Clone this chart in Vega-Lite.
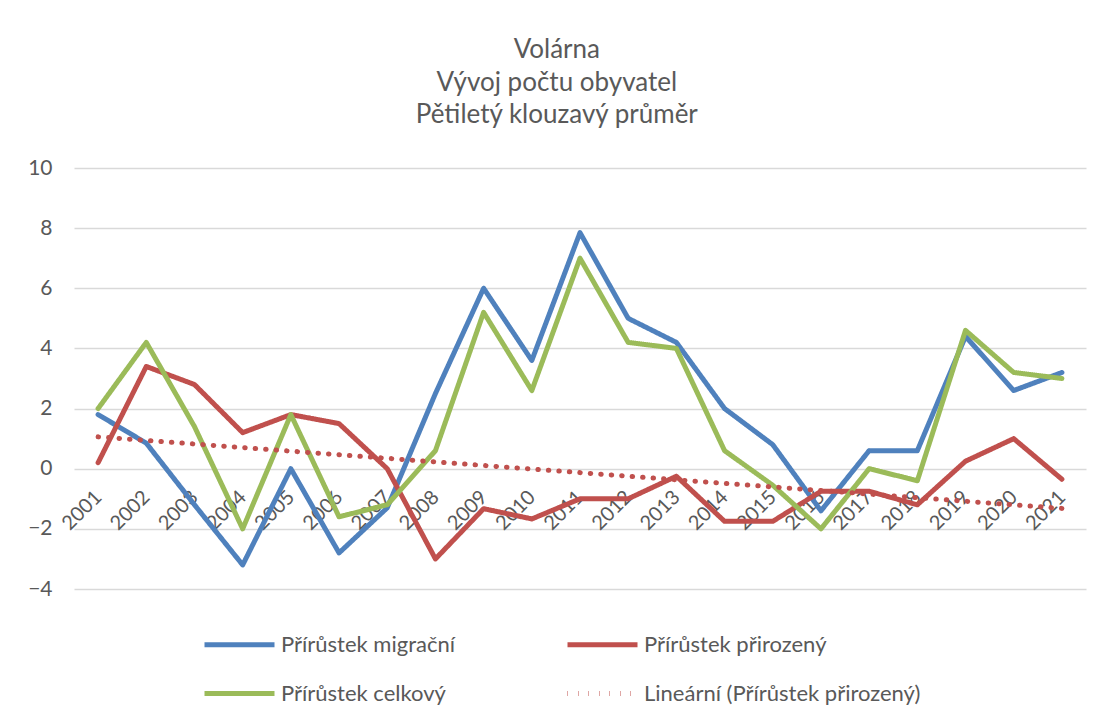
{
  "$schema": "https://vega.github.io/schema/vega-lite/v6.json",
  "width": 1012,
  "height": 421,
  "autosize": {"type": "none"},
  "padding": {"left": 74, "top": 168, "right": 14, "bottom": 126},
  "background": "white",
  "title": {
    "text": ["Volárna", "Vývoj počtu obyvatel", "Pětiletý klouzavý průměr"],
    "fontSize": 26,
    "font": "Lato",
    "fontWeight": "normal",
    "color": "#595959",
    "lineHeight": 32.5,
    "anchor": "middle",
    "frame": "bounds",
    "offset": 29
  },
  "config": {"view": {"stroke": null}},
  "data": {
    "values": [
      {"rok": 2001, "hodnota": 1.8, "rada": "Přírůstek migrační"},
      {"rok": 2002, "hodnota": 0.85, "rada": "Přírůstek migrační"},
      {"rok": 2003, "hodnota": -1.2, "rada": "Přírůstek migrační"},
      {"rok": 2004, "hodnota": -3.2, "rada": "Přírůstek migrační"},
      {"rok": 2005, "hodnota": 0.0, "rada": "Přírůstek migrační"},
      {"rok": 2006, "hodnota": -2.8, "rada": "Přírůstek migrační"},
      {"rok": 2007, "hodnota": -1.3, "rada": "Přírůstek migrační"},
      {"rok": 2008, "hodnota": 2.5, "rada": "Přírůstek migrační"},
      {"rok": 2009, "hodnota": 6.0, "rada": "Přírůstek migrační"},
      {"rok": 2010, "hodnota": 3.6, "rada": "Přírůstek migrační"},
      {"rok": 2011, "hodnota": 7.85, "rada": "Přírůstek migrační"},
      {"rok": 2012, "hodnota": 5.0, "rada": "Přírůstek migrační"},
      {"rok": 2013, "hodnota": 4.2, "rada": "Přírůstek migrační"},
      {"rok": 2014, "hodnota": 2.0, "rada": "Přírůstek migrační"},
      {"rok": 2015, "hodnota": 0.8, "rada": "Přírůstek migrační"},
      {"rok": 2016, "hodnota": -1.4, "rada": "Přírůstek migrační"},
      {"rok": 2017, "hodnota": 0.6, "rada": "Přírůstek migrační"},
      {"rok": 2018, "hodnota": 0.6, "rada": "Přírůstek migrační"},
      {"rok": 2019, "hodnota": 4.4, "rada": "Přírůstek migrační"},
      {"rok": 2020, "hodnota": 2.6, "rada": "Přírůstek migrační"},
      {"rok": 2021, "hodnota": 3.2, "rada": "Přírůstek migrační"},
      {"rok": 2001, "hodnota": 0.2, "rada": "Přírůstek přirozený"},
      {"rok": 2002, "hodnota": 3.4, "rada": "Přírůstek přirozený"},
      {"rok": 2003, "hodnota": 2.8, "rada": "Přírůstek přirozený"},
      {"rok": 2004, "hodnota": 1.2, "rada": "Přírůstek přirozený"},
      {"rok": 2005, "hodnota": 1.8, "rada": "Přírůstek přirozený"},
      {"rok": 2006, "hodnota": 1.5, "rada": "Přírůstek přirozený"},
      {"rok": 2007, "hodnota": 0.0, "rada": "Přírůstek přirozený"},
      {"rok": 2008, "hodnota": -3.0, "rada": "Přírůstek přirozený"},
      {"rok": 2009, "hodnota": -1.33, "rada": "Přírůstek přirozený"},
      {"rok": 2010, "hodnota": -1.67, "rada": "Přírůstek přirozený"},
      {"rok": 2011, "hodnota": -1.0, "rada": "Přírůstek přirozený"},
      {"rok": 2012, "hodnota": -1.0, "rada": "Přírůstek přirozený"},
      {"rok": 2013, "hodnota": -0.25, "rada": "Přírůstek přirozený"},
      {"rok": 2014, "hodnota": -1.75, "rada": "Přírůstek přirozený"},
      {"rok": 2015, "hodnota": -1.75, "rada": "Přírůstek přirozený"},
      {"rok": 2016, "hodnota": -0.75, "rada": "Přírůstek přirozený"},
      {"rok": 2017, "hodnota": -0.75, "rada": "Přírůstek přirozený"},
      {"rok": 2018, "hodnota": -1.2, "rada": "Přírůstek přirozený"},
      {"rok": 2019, "hodnota": 0.25, "rada": "Přírůstek přirozený"},
      {"rok": 2020, "hodnota": 1.0, "rada": "Přírůstek přirozený"},
      {"rok": 2021, "hodnota": -0.35, "rada": "Přírůstek přirozený"},
      {"rok": 2001, "hodnota": 2.0, "rada": "Přírůstek celkový"},
      {"rok": 2002, "hodnota": 4.2, "rada": "Přírůstek celkový"},
      {"rok": 2003, "hodnota": 1.4, "rada": "Přírůstek celkový"},
      {"rok": 2004, "hodnota": -2.0, "rada": "Přírůstek celkový"},
      {"rok": 2005, "hodnota": 1.8, "rada": "Přírůstek celkový"},
      {"rok": 2006, "hodnota": -1.6, "rada": "Přírůstek celkový"},
      {"rok": 2007, "hodnota": -1.2, "rada": "Přírůstek celkový"},
      {"rok": 2008, "hodnota": 0.6, "rada": "Přírůstek celkový"},
      {"rok": 2009, "hodnota": 5.2, "rada": "Přírůstek celkový"},
      {"rok": 2010, "hodnota": 2.6, "rada": "Přírůstek celkový"},
      {"rok": 2011, "hodnota": 7.0, "rada": "Přírůstek celkový"},
      {"rok": 2012, "hodnota": 4.2, "rada": "Přírůstek celkový"},
      {"rok": 2013, "hodnota": 4.0, "rada": "Přírůstek celkový"},
      {"rok": 2014, "hodnota": 0.6, "rada": "Přírůstek celkový"},
      {"rok": 2015, "hodnota": -0.55, "rada": "Přírůstek celkový"},
      {"rok": 2016, "hodnota": -2.0, "rada": "Přírůstek celkový"},
      {"rok": 2017, "hodnota": 0.0, "rada": "Přírůstek celkový"},
      {"rok": 2018, "hodnota": -0.4, "rada": "Přírůstek celkový"},
      {"rok": 2019, "hodnota": 4.6, "rada": "Přírůstek celkový"},
      {"rok": 2020, "hodnota": 3.2, "rada": "Přírůstek celkový"},
      {"rok": 2021, "hodnota": 3.0, "rada": "Přírůstek celkový"},
      {"rok": 2001, "hodnota": 1.06, "rada": "Lineární (Přírůstek přirozený)"},
      {"rok": 2021, "hodnota": -1.32, "rada": "Lineární (Přírůstek přirozený)"}
    ]
  },
  "mark": {"type": "line", "strokeCap": "round", "strokeJoin": "round"},
  "encoding": {
    "x": {
      "field": "rok",
      "type": "quantitative",
      "scale": {"domain": [2000.5, 2021.5], "nice": false, "zero": false},
      "axis": {
        "values": [2001, 2002, 2003, 2004, 2005, 2006, 2007, 2008, 2009, 2010, 2011, 2012, 2013, 2014, 2015, 2016, 2017, 2018, 2019, 2020, 2021],
        "format": "d",
        "orient": "bottom",
        "offset": -120.3,
        "labelAngle": -45,
        "labelAlign": "right",
        "labelBaseline": "middle",
        "labelPadding": 25,
        "labelFontSize": 20,
        "labelFont": "Lato",
        "labelColor": "#595959",
        "labelOverlap": false,
        "labelFlush": false,
        "domain": false,
        "ticks": false,
        "grid": false,
        "title": null
      }
    },
    "y": {
      "field": "hodnota",
      "type": "quantitative",
      "scale": {"domain": [-4, 10], "nice": false},
      "axis": {
        "values": [-4, -2, 0, 2, 4, 6, 8, 10],
        "domain": false,
        "ticks": false,
        "grid": true,
        "gridColor": "#D9D9D9",
        "gridWidth": 1.5,
        "labelFontSize": 21,
        "labelFont": "Lato",
        "labelColor": "#595959",
        "labelPadding": 22,
        "title": null
      }
    },
    "color": {
      "field": "rada",
      "type": "nominal",
      "scale": {
        "domain": ["Přírůstek migrační", "Přírůstek přirozený", "Přírůstek celkový", "Lineární (Přírůstek přirozený)"],
        "range": ["#4F81BD", "#C0504D", "#9BBB59", "#C0504D"]
      },
      "legend": {
        "orient": "none",
        "legendX": 128,
        "legendY": 439,
        "direction": "horizontal",
        "columns": 2,
        "title": null,
        "symbolType": "stroke",
        "symbolSize": 4900,
        "labelFontSize": 22,
        "labelFont": "Lato",
        "labelColor": "#595959",
        "labelOffset": 4,
        "labelLimit": 500,
        "columnPadding": 102,
        "rowPadding": -25
      }
    },
    "strokeDash": {
      "field": "rada",
      "type": "nominal",
      "scale": {
        "domain": ["Přírůstek migrační", "Přírůstek přirozený", "Přírůstek celkový", "Lineární (Přírůstek přirozený)"],
        "range": [[1, 0], [1, 0], [1, 0], [0.5, 10]]
      }
    },
    "strokeWidth": {
      "field": "rada",
      "type": "nominal",
      "scale": {
        "domain": ["Přírůstek migrační", "Přírůstek přirozený", "Přírůstek celkový", "Lineární (Přírůstek přirozený)"],
        "range": [5, 5, 5, 3.5]
      }
    }
  }
}
